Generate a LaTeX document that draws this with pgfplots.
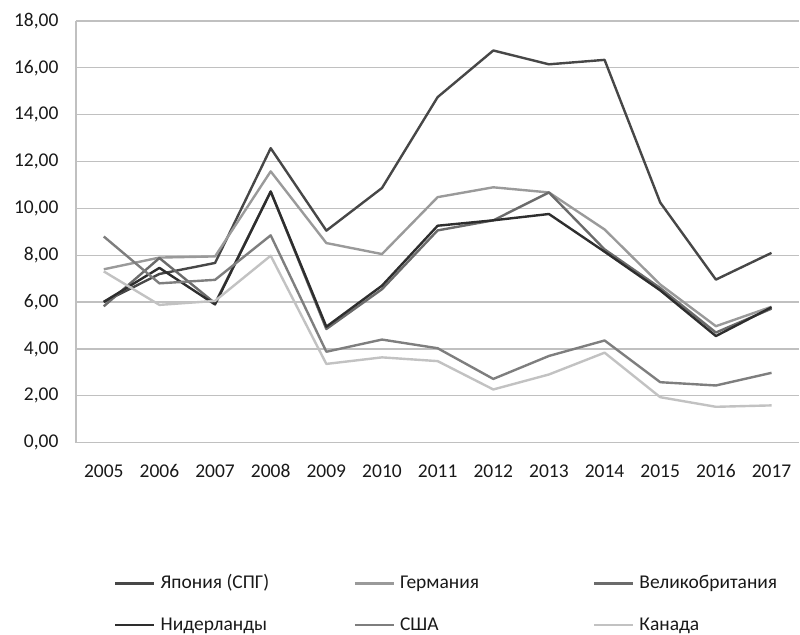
\documentclass[border=0pt]{standalone}
\usepackage{fontspec}
\setmainfont{Carlito}
\usepackage{pgfplots}
\pgfplotsset{compat=1.18}
\definecolor{cJap}{HTML}{474747}
\definecolor{cGer}{HTML}{9A9A9A}
\definecolor{cUK}{HTML}{6B6B6B}
\definecolor{cNL}{HTML}{2E2E2E}
\definecolor{cUSA}{HTML}{7E7E7E}
\definecolor{cCan}{HTML}{C2C2C2}
\definecolor{cGrid}{HTML}{C0C0C0}
\newcommand{\chfont}{\fontsize{19.5}{23}\selectfont}
\begin{document}
\begin{tikzpicture}
\begin{axis}[
  scale only axis, width=724pt, height=422pt,
  xmin=2004.5, xmax=2017.5, ymin=0, ymax=18,
  xtick={2005,2006,...,2017}, ytick={0,2,...,18},
  axis x line*=bottom, axis y line*=left,
  axis line style={-, draw=cGrid, line width=1.3pt},
  ymajorgrids, grid style={draw=cGrid, line width=1.3pt},
  major tick length=0pt,
  tick label style={font=\chfont, text=black!90},
  yticklabel style={/pgf/number format/.cd, fixed, fixed zerofill, precision=2, use comma, assume math mode=true, /tikz/.cd, xshift=-14pt},
  xticklabel style={/pgf/number format/.cd, 1000 sep={}, assume math mode=true, /tikz/.cd, anchor=base, yshift=-35pt},
  legend columns=3,
  legend style={at={(0.0525,-0.3116)}, anchor=north west, draw=none, fill=none,
    font=\chfont, text=black!90, inner sep=0pt, column sep=5pt, row sep=24pt,
    nodes={inner sep=0pt, text height=14pt, text depth=4pt, anchor=west}},
  legend cell align=left,
  legend image code/.code={\draw[#1, line width=2.6pt] (0pt,0pt) -- (39pt,0pt);},
  every axis plot/.append style={line width=2.4pt, line join=round, mark=none},
]
\addplot[cJap] coordinates {(2005,6.00) (2006,7.20) (2007,7.67) (2008,12.57) (2009,9.05) (2010,10.87) (2011,14.75) (2012,16.74) (2013,16.15) (2014,16.34) (2015,10.25) (2016,6.96) (2017,8.10)};
\addlegendentry{\makebox[188pt][l]{Япония (СПГ)}}
\addplot[cGer] coordinates {(2005,7.40) (2006,7.90) (2007,7.95) (2008,11.58) (2009,8.52) (2010,8.05) (2011,10.48) (2012,10.90) (2013,10.68) (2014,9.10) (2015,6.75) (2016,4.97) (2017,5.80)};
\addlegendentry{\makebox[188pt][l]{Германия}}
\addplot[cUK] coordinates {(2005,5.82) (2006,7.88) (2007,5.95) (2008,10.72) (2009,4.85) (2010,6.55) (2011,9.06) (2012,9.49) (2013,10.68) (2014,8.25) (2015,6.60) (2016,4.70) (2017,5.72)};
\addlegendentry{Великобритания}
\addplot[cNL] coordinates {(2005,6.01) (2006,7.46) (2007,5.90) (2008,10.72) (2009,4.95) (2010,6.70) (2011,9.26) (2012,9.49) (2013,9.76) (2014,8.15) (2015,6.50) (2016,4.55) (2017,5.78)};
\addlegendentry{\makebox[188pt][l]{Нидерланды}}
\addplot[cUSA] coordinates {(2005,8.80) (2006,6.80) (2007,6.95) (2008,8.85) (2009,3.88) (2010,4.40) (2011,4.03) (2012,2.72) (2013,3.70) (2014,4.36) (2015,2.58) (2016,2.44) (2017,2.98)};
\addlegendentry{\makebox[188pt][l]{США}}
\addplot[cCan] coordinates {(2005,7.31) (2006,5.88) (2007,6.05) (2008,7.98) (2009,3.36) (2010,3.64) (2011,3.48) (2012,2.27) (2013,2.91) (2014,3.84) (2015,1.94) (2016,1.53) (2017,1.59)};
\addlegendentry{Канада}
\end{axis}
\path (current axis.south west) ++(-76pt,-191pt) rectangle ++(800pt,634pt);
\end{tikzpicture}
\end{document}
